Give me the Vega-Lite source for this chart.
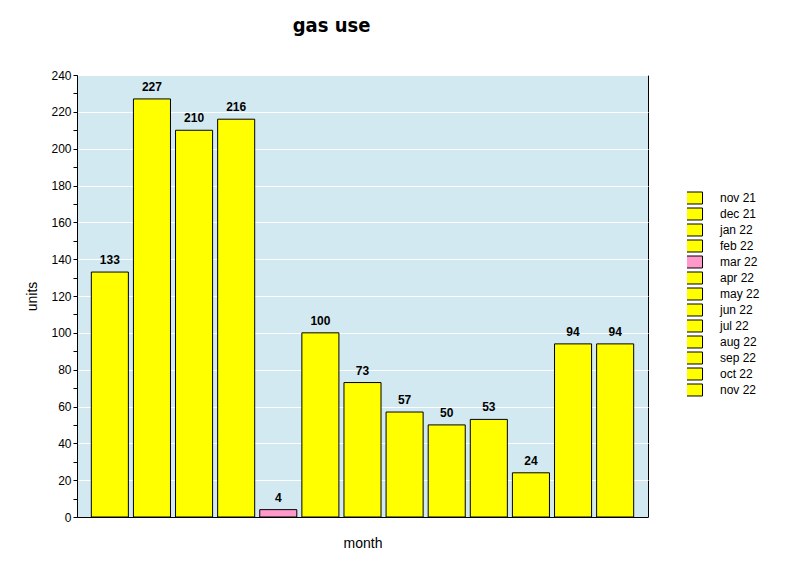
{
  "$schema": "https://vega.github.io/schema/vega-lite/v6.json",
  "title": {
    "text": "gas use",
    "fontSize": 20,
    "font": "DejaVu Sans Condensed",
    "fontWeight": "bold",
    "color": "#000000",
    "anchor": "middle",
    "dx": -31,
    "offset": 33
  },
  "width": 571,
  "height": 442,
  "padding": {"left": 25, "top": 16, "right": 5, "bottom": 5},
  "background": "#ffffff",
  "config": {
    "font": "Liberation Sans",
    "view": {"fill": "#d2e9f1", "stroke": "#000000", "strokeWidth": 1}
  },
  "data": {
    "values": [
      {"month": "nov 21", "units": 133},
      {"month": "dec 21", "units": 227},
      {"month": "jan 22", "units": 210},
      {"month": "feb 22", "units": 216},
      {"month": "mar 22", "units": 4},
      {"month": "apr 22", "units": 100},
      {"month": "may 22", "units": 73},
      {"month": "jun 22", "units": 57},
      {"month": "jul 22", "units": 50},
      {"month": "aug 22", "units": 53},
      {"month": "sep 22", "units": 24},
      {"month": "oct 22", "units": 94},
      {"month": "nov 22", "units": 94}
    ]
  },
  "encoding": {
    "x": {
      "field": "month",
      "type": "nominal",
      "sort": null,
      "scale": {"paddingInner": 0.12, "paddingOuter": 0.34},
      "axis": {
        "title": "month",
        "titleFontSize": 14,
        "titleFontWeight": "normal",
        "titleColor": "#000000",
        "titlePadding": 19,
        "labels": false,
        "ticks": false,
        "domainColor": "#000000"
      }
    },
    "y": {
      "field": "units",
      "type": "quantitative",
      "scale": {"domain": [0, 240], "nice": false},
      "axis": {
        "title": "units",
        "titleFontSize": 14,
        "titleFontWeight": "normal",
        "titleColor": "#000000",
        "titlePadding": 11,
        "values": [0, 10, 20, 30, 40, 50, 60, 70, 80, 90, 100, 110, 120, 130, 140, 150, 160, 170, 180, 190, 200, 210, 220, 230, 240],
        "labelExpr": "datum.value % 20 == 0 ? datum.label : ''",
        "labelFontSize": 12,
        "labelColor": "#000000",
        "labelPadding": 2,
        "tickColor": "#000000",
        "tickSize": 4,
        "domainColor": "#000000",
        "gridColor": "#ffffff",
        "gridOpacity": {"condition": {"test": "datum.value % 20 == 0", "value": 1}, "value": 0}
      }
    }
  },
  "layer": [
    {
      "mark": {"type": "bar", "stroke": "#000000", "strokeWidth": 1, "opacity": 1},
      "encoding": {
        "color": {
          "field": "month",
          "type": "nominal",
          "scale": {
            "domain": ["nov 21", "dec 21", "jan 22", "feb 22", "mar 22", "apr 22", "may 22", "jun 22", "jul 22", "aug 22", "sep 22", "oct 22", "nov 22"],
            "range": ["#ffff00", "#ffff00", "#ffff00", "#ffff00", "#ff99cc", "#ffff00", "#ffff00", "#ffff00", "#ffff00", "#ffff00", "#ffff00", "#ffff00", "#ffff00"]
          },
          "legend": {
            "title": null,
            "orient": "none",
            "legendX": 610,
            "legendY": 115,
            "symbolType": "M-1.18,-0.88H1.18V0.88H-1.18Z",
            "symbolSize": 185,
            "symbolStrokeColor": "#000000",
            "symbolStrokeWidth": 1,
            "symbolOpacity": 1,
            "labelFontSize": 12,
            "labelColor": "#000000",
            "labelOffset": 18,
            "clipHeight": 16,
            "rowPadding": 0
          }
        }
      }
    },
    {
      "mark": {"type": "text", "dy": -12, "fontSize": 12, "fontWeight": "bold", "color": "#000000"},
      "encoding": {"text": {"field": "units", "type": "quantitative"}}
    }
  ]
}
